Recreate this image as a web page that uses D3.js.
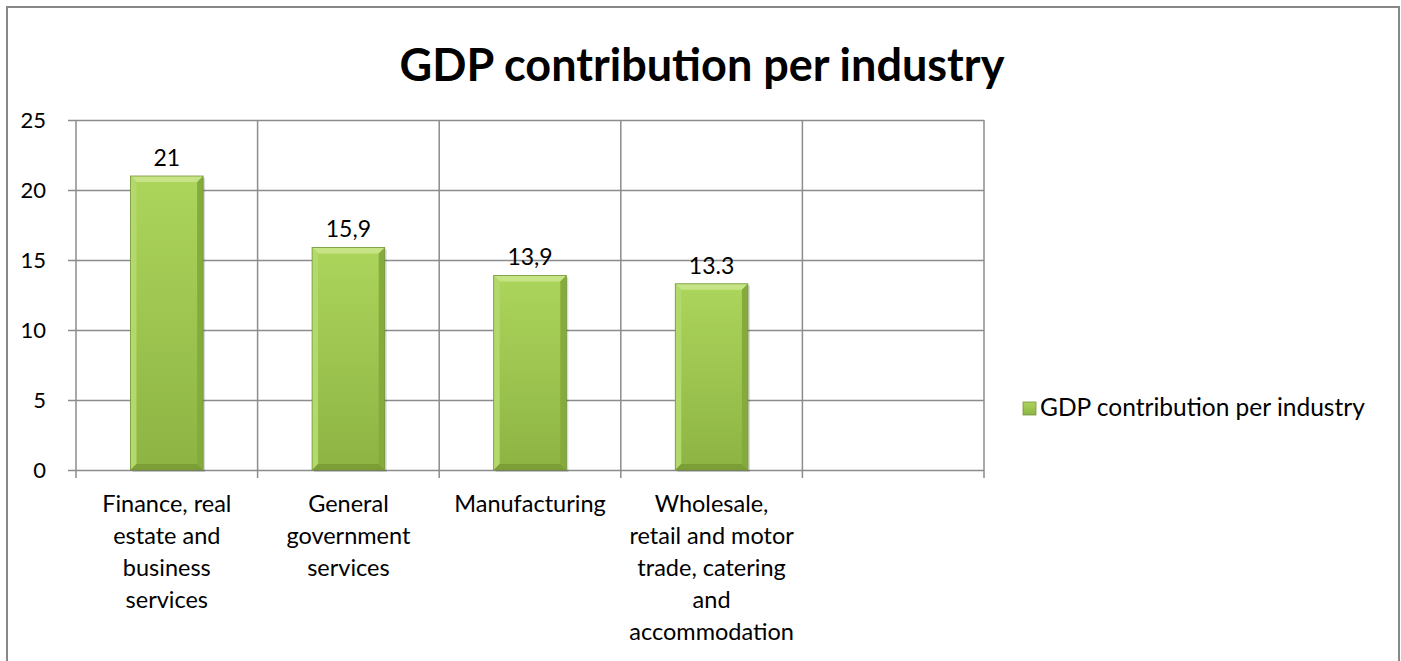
<!DOCTYPE html>
<html>
<head>
<meta charset="utf-8">
<script src="https://cdn.jsdelivr.net/npm/d3@7"></script>
<style>
  body { margin: 0; background: #fff; }
  text { font-family: Lato, "Noto Sans", sans-serif; fill: #000; }
</style>
</head>
<body>
<div id="chart"></div>
<script>

var title = "GDP contribution per industry";

var categories = [
  "Finance, real\nestate and\nbusiness\nservices",
  "General\ngovernment\nservices",
  "Manufacturing",
  "Wholesale,\nretail and motor\ntrade, catering\nand\naccommodation",
  ""
];

var values = [21, 15.9, 13.9, 13.3, null];

var valueLabels = ["21", "15,9", "13,9", "13.3", ""];

var yTicks = [0, 5, 10, 15, 20, 25];

var seriesName = "GDP contribution per industry";

function renderChart(){

  var width = 1401, height = 661;

  var vis = d3.select("#chart")
              .append("svg")
              .attr("width", width)
              .attr("height", height);

  var defs = vis.append("defs");

  var grad = defs.append("linearGradient")
      .attr("id", "barFill")
      .attr("x1", 0).attr("y1", 0).attr("x2", 0).attr("y2", 1);
  grad.append("stop").attr("offset", "0%").attr("stop-color", "#acd55c");
  grad.append("stop").attr("offset", "100%").attr("stop-color", "#8db443");

  // chart border
  vis.append("rect")
     .attr("x", 7).attr("y", 7)
     .attr("width", 1392).attr("height", 680)
     .attr("fill", "none")
     .attr("stroke", "#888")
     .attr("stroke-width", 2);

  vis.append("text")
     .text(title)
     .attr("x", 702)
     .attr("y", 81)
     .attr("text-anchor", "middle")
     .attr("font-weight", "bold")
     .attr("font-size", "45px");

  var x = d3.scaleBand()
            .domain(d3.range(categories.length))
            .range([76, 984])
            .paddingInner(0.6)
            .paddingOuter(0.3);

  var xCat = d3.scaleBand()
               .domain(d3.range(categories.length))
               .range([76, 984]);

  var y = d3.scaleLinear()
            .domain([0, 25])
            .range([470, 120]);

  // horizontal gridlines + y ticks
  var yAxis = d3.axisLeft(y)
                .tickValues(yTicks)
                .tickSize(-(984 - 76))
                .tickSizeOuter(0)
                .tickPadding(30);

  var gy = vis.append("g")
              .attr("transform", "translate(76,0)")
              .call(yAxis);

  gy.select(".domain").remove();
  gy.selectAll(".tick line")
    .attr("x1", -8)
    .attr("stroke", "#8c8c8c")
    .attr("stroke-width", 1.5);
  gy.selectAll(".tick text")
    .attr("font-size", "22px")
    .attr("font-family", "Lato, sans-serif")
    .attr("fill", "#000");

  // vertical gridlines at category boundaries
  var bounds = d3.range(categories.length).map(function(i){ return xCat(i); });
  bounds.push(984);

  vis.selectAll("line.vgrid")
     .data(bounds)
     .enter().append("line")
     .attr("class", "vgrid")
     .attr("x1", function(d){ return d; })
     .attr("x2", function(d){ return d; })
     .attr("y1", y(25))
     .attr("y2", y(0) + 8)
     .attr("stroke", "#8c8c8c")
     .attr("stroke-width", 1.5);

  // bars
  var barData = values.map(function(v, i){ return { i: i, v: v, label: valueLabels[i] }; })
                      .filter(function(d){ return d.v !== null; });

  var bar = vis.selectAll("g.bar")
               .data(barData)
               .enter().append("g")
               .attr("class", "bar");

  var bev = 6;

  bar.append("rect")
     .attr("x", function(d){ return x(d.i) + 2; })
     .attr("y", function(d){ return y(d.v) + 2; })
     .attr("width", x.bandwidth())
     .attr("height", function(d){ return y(0) - y(d.v); })
     .attr("fill", "rgba(0,0,0,0.15)");

  bar.append("rect")
     .attr("x", function(d){ return x(d.i); })
     .attr("y", function(d){ return y(d.v); })
     .attr("width", x.bandwidth())
     .attr("height", function(d){ return y(0) - y(d.v); })
     .attr("fill", "url(#barFill)");

  // bevel facets
  var facet = function(d, side){
    var x0 = x(d.i), x1 = x(d.i) + x.bandwidth();
    var y0 = y(d.v), y1 = y(0);
    if (side == "top") return [[x0,y0],[x1,y0],[x1-bev,y0+bev],[x0+bev,y0+bev]];
    if (side == "left") return [[x0,y0],[x0+bev,y0+bev],[x0+bev,y1-bev],[x0,y1]];
    if (side == "right") return [[x1,y0],[x1,y1],[x1-bev,y1-bev],[x1-bev,y0+bev]];
    return [[x0,y1],[x0+bev,y1-bev],[x1-bev,y1-bev],[x1,y1]];
  };

  var facetColors = { top: "#c6e486", left: "#b3d96c", right: "#86ab3d", bottom: "#7b9e36" };

  ["top", "left", "right", "bottom"].forEach(function(side){
    bar.append("polygon")
       .attr("points", function(d){ return facet(d, side).join(" "); })
       .attr("fill", facetColors[side]);
  });

  bar.append("rect")
     .attr("x", function(d){ return x(d.i); })
     .attr("y", function(d){ return y(d.v); })
     .attr("width", x.bandwidth())
     .attr("height", function(d){ return y(0) - y(d.v); })
     .attr("fill", "none")
     .attr("stroke", "#74953a")
     .attr("stroke-width", 0.8);

  bar.append("text")
     .text(function(d){ return d.label; })
     .attr("x", function(d){ return x(d.i) + x.bandwidth() / 2; })
     .attr("y", function(d){ return y(d.v) - 10; })
     .attr("text-anchor", "middle")
     .attr("font-size", "23px");

  // category labels
  var cat = vis.selectAll("text.cat")
               .data(categories)
               .enter().append("text")
               .attr("class", "cat")
               .attr("text-anchor", "middle")
               .attr("font-size", "23.5px")
               .attr("x", function(d, i){ return xCat(i) + xCat.bandwidth() / 2; })
               .attr("y", 512);

  cat.selectAll("tspan")
     .data(function(d){ return d ? d.split("\n") : []; })
     .enter().append("tspan")
     .attr("x", function(){ return d3.select(this.parentNode).attr("x"); })
     .attr("dy", function(d, i){ return i == 0 ? 0 : 32; })
     .text(function(d){ return d; });

  // legend
  var lg = vis.append("g").attr("transform", "translate(1023,408)");

  lg.append("rect")
    .attr("x", 0).attr("y", -6)
    .attr("width", 13).attr("height", 13)
    .attr("fill", "url(#barFill)")
    .attr("stroke", "#74953a")
    .attr("stroke-width", 0.8);

  lg.append("text")
    .text(seriesName)
    .attr("x", 17)
    .attr("y", 8)
    .attr("font-size", "24.5px");
}

renderChart();
</script>
</body>
</html>
